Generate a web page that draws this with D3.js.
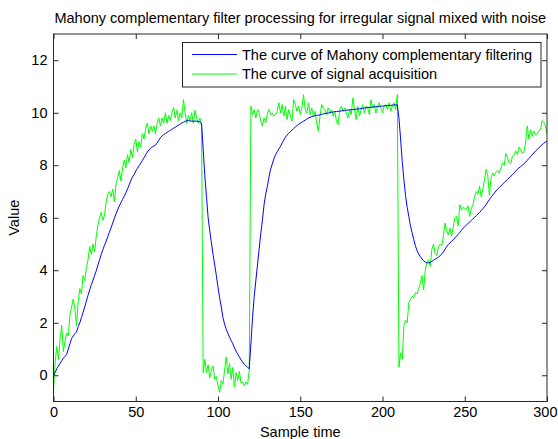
<!DOCTYPE html>
<html><head><meta charset="utf-8">
<script src="https://cdn.jsdelivr.net/npm/d3@7/dist/d3.min.js"></script>
<style>body{margin:0;background:#fff}svg{display:block}text{font-family:"Liberation Sans",Arial,sans-serif;fill:#000}</style>
</head><body>
<script>
const titleText = "Mahony complementary filter processing for irregular signal mixed with noise";
const xLabel = "Sample time";
const yLabel = "Value";
const legendLabels = ["The curve of Mahony complementary filtering", "The curve of signal acquisition"];
const xTicks = [0, 50, 100, 150, 200, 250, 300];
const yTicks = [0, 2, 4, 6, 8, 10, 12];

// filtered (blue) signal, samples 0..300
const filtered = [
0.0,0.1,0.25,0.35,0.45,0.55,0.65,0.72,0.8,1.0,
1.2,1.4,1.5,1.58,1.65,1.85,2.0,2.2,2.4,2.6,
2.82,3.05,3.25,3.45,3.62,3.8,3.98,4.2,4.4,4.6,
4.78,4.95,5.1,5.28,5.45,5.62,5.8,5.98,6.15,6.3,
6.45,6.58,6.7,6.82,6.95,7.1,7.25,7.42,7.55,7.65,
7.78,7.88,7.98,8.08,8.18,8.28,8.4,8.5,8.58,8.65,
8.7,8.73,8.77,8.85,8.95,9.05,9.12,9.17,9.21,9.25,
9.29,9.33,9.37,9.41,9.45,9.49,9.53,9.57,9.61,9.64,
9.67,9.7,9.7,9.69,9.68,9.68,9.68,9.68,9.67,9.65,
9.6,8.6,7.6,6.8,6.0,5.5,5.05,4.6,4.2,3.8,
3.35,2.95,2.6,2.2,1.95,1.75,1.6,1.45,1.32,1.2,
1.05,0.92,0.8,0.7,0.58,0.5,0.42,0.36,0.3,0.25,
1.2,2.2,3.0,3.6,4.2,4.8,5.4,5.9,6.5,6.9,
7.2,7.55,7.85,8.05,8.25,8.4,8.52,8.62,8.72,8.85,
8.97,9.07,9.15,9.22,9.28,9.33,9.4,9.46,9.51,9.56,
9.6,9.64,9.68,9.72,9.76,9.8,9.83,9.85,9.87,9.89,
9.9,9.91,9.92,9.94,9.95,9.97,9.98,9.99,10.0,10.02,
10.03,10.04,10.05,10.05,10.06,10.07,10.08,10.09,10.1,10.1,
10.11,10.12,10.12,10.13,10.14,10.14,10.15,10.16,10.17,10.18,
10.19,10.2,10.2,10.21,10.22,10.22,10.23,10.24,10.24,10.25,
10.25,10.26,10.27,10.27,10.28,10.28,10.29,10.3,10.3,10.3,
9.8,9.0,8.15,7.45,6.85,6.4,6.05,5.7,5.42,5.17,
4.93,4.75,4.62,4.52,4.43,4.36,4.31,4.28,4.28,4.3,
4.34,4.38,4.42,4.46,4.5,4.55,4.62,4.7,4.8,4.9,
4.98,5.04,5.1,5.16,5.23,5.3,5.37,5.44,5.52,5.6,
5.66,5.72,5.78,5.84,5.9,5.96,6.02,6.08,6.14,6.2,
6.27,6.34,6.42,6.5,6.6,6.7,6.78,6.86,6.94,7.02,
7.09,7.15,7.21,7.28,7.34,7.4,7.46,7.52,7.58,7.64,
7.71,7.78,7.85,7.9,7.95,8.0,8.05,8.12,8.19,8.26,
8.33,8.4,8.47,8.54,8.6,8.66,8.72,8.78,8.84,8.88,
8.91
];

// acquired (green) signal, samples 0..300
const acquired = [
-0.6,0.5,1.1,0.6,1.4,1.9,0.9,1.3,1.6,1.5,
2.3,2.6,2.9,2.5,1.9,2.8,3.3,3.1,3.8,3.6,
4.1,4.4,4.9,4.6,5.0,4.7,5.3,5.7,6.0,6.2,
5.9,6.1,6.6,6.9,7.0,6.8,7.1,6.6,7.3,7.5,
7.8,7.4,7.9,8.2,7.9,8.4,8.1,8.6,8.3,8.8,
9.0,8.5,8.9,8.7,9.2,9.0,9.4,9.6,9.2,9.5,
9.3,9.5,9.2,9.6,9.8,9.5,9.8,9.6,10.0,9.6,
9.9,9.7,10.0,10.2,9.8,10.1,9.7,10.0,9.8,10.5,
10.0,9.6,9.9,9.7,10.0,9.6,10.1,9.8,9.6,9.8,
9.5,0.1,0.6,0.1,0.4,-0.1,0.2,0.35,-0.15,-0.05,
-0.4,-0.65,-0.2,-0.35,0.2,0.7,0.05,0.45,-0.15,0.3,
-0.45,0.1,-0.2,0.15,-0.3,-0.25,-0.4,-0.25,-0.35,0.2,
10.25,9.93,10.12,9.8,10.12,10.0,9.68,9.49,9.8,9.61,
9.99,10.12,9.93,9.99,9.87,9.93,10.06,10.38,9.99,10.31,
9.87,10.25,9.74,10.12,9.87,9.68,10.5,10.31,10.06,10.25,
9.93,10.18,10.69,10.12,9.99,10.38,9.93,10.18,9.87,10.06,
9.61,9.3,9.87,10.31,10.18,10.12,9.93,10.18,9.99,10.12,
9.87,10.06,9.68,9.55,10.12,10.25,10.06,10.18,9.99,9.8,
10.12,9.93,10.57,10.12,9.74,10.25,9.87,10.12,10.31,9.99,
10.25,10.18,9.93,10.5,10.18,10.31,9.99,10.25,10.38,10.18,
9.99,10.25,10.31,10.12,10.38,10.06,10.25,10.38,10.12,10.7,
0.3,0.85,0.6,1.9,2.1,2.0,2.75,2.9,3.0,2.95,
3.15,3.1,3.3,3.5,3.8,3.25,4.0,4.3,4.4,4.15,
4.8,5.0,4.65,4.55,4.9,5.0,4.95,5.3,5.8,5.5,
5.35,5.6,5.3,5.65,6.0,6.05,5.7,6.5,6.3,6.4,
6.35,6.3,6.45,6.05,6.35,6.5,6.8,7.0,6.9,7.2,
6.8,7.1,7.45,7.85,7.6,6.85,7.5,7.7,7.6,7.75,
7.8,7.7,7.9,8.1,8.0,8.45,8.3,8.1,8.05,8.35,
8.4,8.55,8.4,8.7,8.6,8.45,8.5,8.85,9.5,9.0,
9.35,9.1,9.3,9.15,9.2,9.3,9.35,9.7,9.65,9.5,
9.2
];

const W = 558, H = 439;
const L = 53.5, R = 547, T = 34, B = 401.5;
const FS = "14.5px";
const svg = d3.select("body").append("svg").attr("width", W).attr("height", H);
svg.append("rect").attr("width", W).attr("height", H).attr("fill", "#fff");

const x = d3.scaleLinear().domain([0, 300]).range([L, R]);
const y = d3.scaleLinear().domain([-1, 13]).range([B, T]);

const clipId = "plotclip";
svg.append("clipPath").attr("id", clipId).append("rect")
  .attr("x", L).attr("y", T).attr("width", R - L).attr("height", B - T);

const line = d3.line().x((d, i) => x(i)).y(d => y(d));
const g = svg.append("g").attr("clip-path", `url(#${clipId})`);
g.append("path").datum(acquired).attr("d", line).attr("fill", "none").attr("stroke", "#00ff00").attr("stroke-width", 1);
g.append("path").datum(filtered).attr("d", line).attr("fill", "none").attr("stroke", "#0000ff").attr("stroke-width", 1);

const axisColor = "#262626";
function styleAxis(sel) {
  sel.select(".domain").remove();
  sel.selectAll("line").attr("stroke", axisColor);
  sel.selectAll("text").style("font-size", FS).style("font-family", '"Liberation Sans", Arial, sans-serif').attr("fill", "#000");
}
const xb = svg.append("g").attr("transform", `translate(0,${B})`)
  .call(d3.axisBottom(x).tickValues(xTicks).tickSizeInner(-5).tickSizeOuter(0).tickPadding(5).tickFormat(d3.format("d")));
styleAxis(xb);
// keep the last label inside the page edge
xb.selectAll(".tick").filter(d => d === 300).select("text").attr("text-anchor", "end").attr("x", W - 1 - x(300));
const xt = svg.append("g").attr("transform", `translate(0,${T})`)
  .call(d3.axisTop(x).tickValues(xTicks).tickSizeInner(-5).tickSizeOuter(0).tickFormat(""));
styleAxis(xt);
const yl = svg.append("g").attr("transform", `translate(${L},0)`)
  .call(d3.axisLeft(y).tickValues(yTicks).tickSizeInner(-5).tickSizeOuter(0).tickPadding(6).tickFormat(d3.format("d")));
styleAxis(yl);
const yr = svg.append("g").attr("transform", `translate(${R},0)`)
  .call(d3.axisRight(y).tickValues(yTicks).tickSizeInner(-5).tickSizeOuter(0).tickFormat(""));
styleAxis(yr);

svg.append("rect").attr("x", L).attr("y", T).attr("width", R - L).attr("height", B - T)
  .attr("fill", "none").attr("stroke", axisColor).attr("stroke-width", 1);

svg.append("text").attr("x", (L + R) / 2).attr("y", 23).attr("text-anchor", "middle")
  .style("font-size", FS).text(titleText);
svg.append("text").attr("x", (L + R) / 2).attr("y", 437).attr("text-anchor", "middle")
  .style("font-size", FS).text(xLabel);
svg.append("text").attr("transform", `translate(19,${(T + B) / 2}) rotate(-90)`).attr("text-anchor", "middle")
  .style("font-size", FS).text(yLabel);

const lg = svg.append("g");
lg.append("rect").attr("x", 182.5).attr("y", 42.5).attr("width", 358.5).attr("height", 44.5)
  .attr("fill", "#fff").attr("stroke", axisColor).attr("stroke-width", 1);
const legColors = ["#0000ff", "#00ff00"];
legendLabels.forEach((t, i) => {
  const yy = 54.5 + i * 19.5;
  lg.append("line").attr("x1", 192).attr("x2", 237).attr("y1", yy).attr("y2", yy).attr("stroke", legColors[i]).attr("stroke-width", 1);
  lg.append("text").attr("x", 242).attr("y", yy + 5).style("font-size", FS).text(t);
});
</script>
</body></html>
